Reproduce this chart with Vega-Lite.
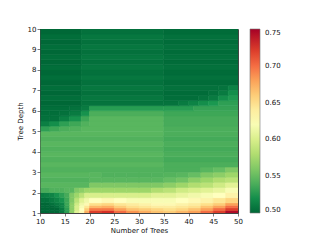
{"$schema":"https://vega.github.io/schema/vega-lite/v6.json","width":198,"height":184,"autosize":{"type":"none"},"padding":{"left":40,"top":29,"right":82,"bottom":27},"background":"white","config":{"font":"DejaVu Sans","view":{"stroke":"#444","strokeWidth":1}},
"data":{"values":[
{"t":10,"t2":11,"d":1,"d2":1.125,"v":0.5},{"t":11,"t2":12,"d":1,"d2":1.125,"v":0.5},{"t":12,"t2":13,"d":1,"d2":1.125,"v":0.5},{"t":13,"t2":14,"d":1,"d2":1.125,"v":0.5},{"t":14,"t2":15,"d":1,"d2":1.125,"v":0.51},{"t":15,"t2":16,"d":1,"d2":1.125,"v":0.53},{"t":16,"t2":17,"d":1,"d2":1.125,"v":0.565},{"t":17,"t2":18,"d":1,"d2":1.125,"v":0.605},{"t":18,"t2":19,"d":1,"d2":1.125,"v":0.63},{"t":19,"t2":20,"d":1,"d2":1.125,"v":0.675},{"t":20,"t2":22.5,"d":1,"d2":1.125,"v":0.72},{"t":22.5,"t2":25,"d":1,"d2":1.125,"v":0.725},{"t":25,"t2":27.5,"d":1,"d2":1.125,"v":0.7},{"t":27.5,"t2":30,"d":1,"d2":1.125,"v":0.685},{"t":30,"t2":32.5,"d":1,"d2":1.125,"v":0.675},{"t":32.5,"t2":35,"d":1,"d2":1.125,"v":0.665},{"t":35,"t2":37.5,"d":1,"d2":1.125,"v":0.66},{"t":37.5,"t2":40,"d":1,"d2":1.125,"v":0.67},{"t":40,"t2":42.5,"d":1,"d2":1.125,"v":0.68},{"t":42.5,"t2":45,"d":1,"d2":1.125,"v":0.7},{"t":45,"t2":47.5,"d":1,"d2":1.125,"v":0.72},{"t":47.5,"t2":50,"d":1,"d2":1.125,"v":0.745},
{"t":10,"t2":11,"d":1.125,"d2":1.25,"v":0.5},{"t":11,"t2":12,"d":1.125,"d2":1.25,"v":0.5},{"t":12,"t2":13,"d":1.125,"d2":1.25,"v":0.5},{"t":13,"t2":14,"d":1.125,"d2":1.25,"v":0.5},{"t":14,"t2":15,"d":1.125,"d2":1.25,"v":0.51},{"t":15,"t2":16,"d":1.125,"d2":1.25,"v":0.53},{"t":16,"t2":17,"d":1.125,"d2":1.25,"v":0.565},{"t":17,"t2":18,"d":1.125,"d2":1.25,"v":0.6},{"t":18,"t2":19,"d":1.125,"d2":1.25,"v":0.625},{"t":19,"t2":20,"d":1.125,"d2":1.25,"v":0.66},{"t":20,"t2":22.5,"d":1.125,"d2":1.25,"v":0.695},{"t":22.5,"t2":25,"d":1.125,"d2":1.25,"v":0.695},{"t":25,"t2":27.5,"d":1.125,"d2":1.25,"v":0.68},{"t":27.5,"t2":30,"d":1.125,"d2":1.25,"v":0.665},{"t":30,"t2":32.5,"d":1.125,"d2":1.25,"v":0.66},{"t":32.5,"t2":35,"d":1.125,"d2":1.25,"v":0.655},{"t":35,"t2":37.5,"d":1.125,"d2":1.25,"v":0.65},{"t":37.5,"t2":40,"d":1.125,"d2":1.25,"v":0.655},{"t":40,"t2":42.5,"d":1.125,"d2":1.25,"v":0.665},{"t":42.5,"t2":45,"d":1.125,"d2":1.25,"v":0.68},{"t":45,"t2":47.5,"d":1.125,"d2":1.25,"v":0.7},{"t":47.5,"t2":50,"d":1.125,"d2":1.25,"v":0.72},
{"t":10,"t2":11,"d":1.25,"d2":1.375,"v":0.5},{"t":11,"t2":12,"d":1.25,"d2":1.375,"v":0.5},{"t":12,"t2":13,"d":1.25,"d2":1.375,"v":0.5},{"t":13,"t2":14,"d":1.25,"d2":1.375,"v":0.505},{"t":14,"t2":15,"d":1.25,"d2":1.375,"v":0.515},{"t":15,"t2":16,"d":1.25,"d2":1.375,"v":0.532},{"t":16,"t2":17,"d":1.25,"d2":1.375,"v":0.565},{"t":17,"t2":18,"d":1.25,"d2":1.375,"v":0.6},{"t":18,"t2":19,"d":1.25,"d2":1.375,"v":0.62},{"t":19,"t2":20,"d":1.25,"d2":1.375,"v":0.645},{"t":20,"t2":22.5,"d":1.25,"d2":1.375,"v":0.67},{"t":22.5,"t2":25,"d":1.25,"d2":1.375,"v":0.675},{"t":25,"t2":27.5,"d":1.25,"d2":1.375,"v":0.66},{"t":27.5,"t2":30,"d":1.25,"d2":1.375,"v":0.65},{"t":30,"t2":32.5,"d":1.25,"d2":1.375,"v":0.645},{"t":32.5,"t2":35,"d":1.25,"d2":1.375,"v":0.64},{"t":35,"t2":37.5,"d":1.25,"d2":1.375,"v":0.64},{"t":37.5,"t2":40,"d":1.25,"d2":1.375,"v":0.645},{"t":40,"t2":42.5,"d":1.25,"d2":1.375,"v":0.65},{"t":42.5,"t2":45,"d":1.25,"d2":1.375,"v":0.665},{"t":45,"t2":47.5,"d":1.25,"d2":1.375,"v":0.68},{"t":47.5,"t2":50,"d":1.25,"d2":1.375,"v":0.7},
{"t":10,"t2":11,"d":1.375,"d2":1.5,"v":0.5},{"t":11,"t2":12,"d":1.375,"d2":1.5,"v":0.5},{"t":12,"t2":13,"d":1.375,"d2":1.5,"v":0.505},{"t":13,"t2":14,"d":1.375,"d2":1.5,"v":0.51},{"t":14,"t2":15,"d":1.375,"d2":1.5,"v":0.515},{"t":15,"t2":16,"d":1.375,"d2":1.5,"v":0.535},{"t":16,"t2":17,"d":1.375,"d2":1.5,"v":0.565},{"t":17,"t2":18,"d":1.375,"d2":1.5,"v":0.595},{"t":18,"t2":19,"d":1.375,"d2":1.5,"v":0.615},{"t":19,"t2":20,"d":1.375,"d2":1.5,"v":0.63},{"t":20,"t2":22.5,"d":1.375,"d2":1.5,"v":0.65},{"t":22.5,"t2":25,"d":1.375,"d2":1.5,"v":0.655},{"t":25,"t2":27.5,"d":1.375,"d2":1.5,"v":0.645},{"t":27.5,"t2":30,"d":1.375,"d2":1.5,"v":0.64},{"t":30,"t2":32.5,"d":1.375,"d2":1.5,"v":0.635},{"t":32.5,"t2":35,"d":1.375,"d2":1.5,"v":0.63},{"t":35,"t2":37.5,"d":1.375,"d2":1.5,"v":0.63},{"t":37.5,"t2":40,"d":1.375,"d2":1.5,"v":0.635},{"t":40,"t2":42.5,"d":1.375,"d2":1.5,"v":0.64},{"t":42.5,"t2":45,"d":1.375,"d2":1.5,"v":0.65},{"t":45,"t2":47.5,"d":1.375,"d2":1.5,"v":0.66},{"t":47.5,"t2":50,"d":1.375,"d2":1.5,"v":0.68},
{"t":10,"t2":11,"d":1.5,"d2":1.75,"v":0.505},{"t":11,"t2":12,"d":1.5,"d2":1.75,"v":0.505},{"t":12,"t2":13,"d":1.5,"d2":1.75,"v":0.51},{"t":13,"t2":14,"d":1.5,"d2":1.75,"v":0.515},{"t":14,"t2":15,"d":1.5,"d2":1.75,"v":0.522},{"t":15,"t2":16,"d":1.5,"d2":1.75,"v":0.535},{"t":16,"t2":17,"d":1.5,"d2":1.75,"v":0.56},{"t":17,"t2":18,"d":1.5,"d2":1.75,"v":0.585},{"t":18,"t2":19,"d":1.5,"d2":1.75,"v":0.605},{"t":19,"t2":20,"d":1.5,"d2":1.75,"v":0.615},{"t":20,"t2":22.5,"d":1.5,"d2":1.75,"v":0.625},{"t":22.5,"t2":25,"d":1.5,"d2":1.75,"v":0.63},{"t":25,"t2":27.5,"d":1.5,"d2":1.75,"v":0.625},{"t":27.5,"t2":30,"d":1.5,"d2":1.75,"v":0.62},{"t":30,"t2":32.5,"d":1.5,"d2":1.75,"v":0.62},{"t":32.5,"t2":35,"d":1.5,"d2":1.75,"v":0.62},{"t":35,"t2":37.5,"d":1.5,"d2":1.75,"v":0.62},{"t":37.5,"t2":40,"d":1.5,"d2":1.75,"v":0.625},{"t":40,"t2":42.5,"d":1.5,"d2":1.75,"v":0.63},{"t":42.5,"t2":45,"d":1.5,"d2":1.75,"v":0.635},{"t":45,"t2":47.5,"d":1.5,"d2":1.75,"v":0.645},{"t":47.5,"t2":50,"d":1.5,"d2":1.75,"v":0.655},
{"t":10,"t2":11,"d":1.75,"d2":2,"v":0.51},{"t":11,"t2":12,"d":1.75,"d2":2,"v":0.512},{"t":12,"t2":13,"d":1.75,"d2":2,"v":0.515},{"t":13,"t2":14,"d":1.75,"d2":2,"v":0.522},{"t":14,"t2":15,"d":1.75,"d2":2,"v":0.53},{"t":15,"t2":16,"d":1.75,"d2":2,"v":0.538},{"t":16,"t2":17,"d":1.75,"d2":2,"v":0.56},{"t":17,"t2":18,"d":1.75,"d2":2,"v":0.572},{"t":18,"t2":19,"d":1.75,"d2":2,"v":0.585},{"t":19,"t2":20,"d":1.75,"d2":2,"v":0.6},{"t":20,"t2":22.5,"d":1.75,"d2":2,"v":0.6},{"t":22.5,"t2":25,"d":1.75,"d2":2,"v":0.6},{"t":25,"t2":27.5,"d":1.75,"d2":2,"v":0.6},{"t":27.5,"t2":30,"d":1.75,"d2":2,"v":0.6},{"t":30,"t2":32.5,"d":1.75,"d2":2,"v":0.6},{"t":32.5,"t2":35,"d":1.75,"d2":2,"v":0.605},{"t":35,"t2":37.5,"d":1.75,"d2":2,"v":0.605},{"t":37.5,"t2":40,"d":1.75,"d2":2,"v":0.61},{"t":40,"t2":42.5,"d":1.75,"d2":2,"v":0.615},{"t":42.5,"t2":45,"d":1.75,"d2":2,"v":0.62},{"t":45,"t2":47.5,"d":1.75,"d2":2,"v":0.625},{"t":47.5,"t2":50,"d":1.75,"d2":2,"v":0.635},
{"t":10,"t2":11,"d":2,"d2":2.25,"v":0.538},{"t":11,"t2":12,"d":2,"d2":2.25,"v":0.538},{"t":12,"t2":13,"d":2,"d2":2.25,"v":0.542},{"t":13,"t2":14,"d":2,"d2":2.25,"v":0.542},{"t":14,"t2":15,"d":2,"d2":2.25,"v":0.542},{"t":15,"t2":16,"d":2,"d2":2.25,"v":0.545},{"t":16,"t2":17,"d":2,"d2":2.25,"v":0.545},{"t":17,"t2":18,"d":2,"d2":2.25,"v":0.56},{"t":18,"t2":19,"d":2,"d2":2.25,"v":0.565},{"t":19,"t2":20,"d":2,"d2":2.25,"v":0.572},{"t":20,"t2":22.5,"d":2,"d2":2.25,"v":0.572},{"t":22.5,"t2":25,"d":2,"d2":2.25,"v":0.572},{"t":25,"t2":27.5,"d":2,"d2":2.25,"v":0.572},{"t":27.5,"t2":30,"d":2,"d2":2.25,"v":0.572},{"t":30,"t2":32.5,"d":2,"d2":2.25,"v":0.572},{"t":32.5,"t2":35,"d":2,"d2":2.25,"v":0.58},{"t":35,"t2":37.5,"d":2,"d2":2.25,"v":0.585},{"t":37.5,"t2":40,"d":2,"d2":2.25,"v":0.595},{"t":40,"t2":42.5,"d":2,"d2":2.25,"v":0.6},{"t":42.5,"t2":45,"d":2,"d2":2.25,"v":0.605},{"t":45,"t2":47.5,"d":2,"d2":2.25,"v":0.61},{"t":47.5,"t2":50,"d":2,"d2":2.25,"v":0.62},
{"t":10,"t2":20,"d":2.25,"d2":2.5,"v":0.545},{"t":20,"t2":22.5,"d":2.25,"d2":2.5,"v":0.56},{"t":22.5,"t2":25,"d":2.25,"d2":2.5,"v":0.56},{"t":25,"t2":27.5,"d":2.25,"d2":2.5,"v":0.56},{"t":27.5,"t2":30,"d":2.25,"d2":2.5,"v":0.56},{"t":30,"t2":32.5,"d":2.25,"d2":2.5,"v":0.56},{"t":32.5,"t2":35,"d":2.25,"d2":2.5,"v":0.56},{"t":35,"t2":37.5,"d":2.25,"d2":2.5,"v":0.565},{"t":37.5,"t2":40,"d":2.25,"d2":2.5,"v":0.572},{"t":40,"t2":42.5,"d":2.25,"d2":2.5,"v":0.58},{"t":42.5,"t2":45,"d":2.25,"d2":2.5,"v":0.585},{"t":45,"t2":47.5,"d":2.25,"d2":2.5,"v":0.595},{"t":47.5,"t2":50,"d":2.25,"d2":2.5,"v":0.605},
{"t":10,"t2":20,"d":2.5,"d2":2.75,"v":0.542},{"t":20,"t2":22.5,"d":2.5,"d2":2.75,"v":0.545},{"t":22.5,"t2":25,"d":2.5,"d2":2.75,"v":0.545},{"t":25,"t2":27.5,"d":2.5,"d2":2.75,"v":0.545},{"t":27.5,"t2":30,"d":2.5,"d2":2.75,"v":0.545},{"t":30,"t2":32.5,"d":2.5,"d2":2.75,"v":0.545},{"t":32.5,"t2":35,"d":2.5,"d2":2.75,"v":0.545},{"t":35,"t2":37.5,"d":2.5,"d2":2.75,"v":0.55},{"t":37.5,"t2":40,"d":2.5,"d2":2.75,"v":0.555},{"t":40,"t2":42.5,"d":2.5,"d2":2.75,"v":0.565},{"t":42.5,"t2":45,"d":2.5,"d2":2.75,"v":0.572},{"t":45,"t2":47.5,"d":2.5,"d2":2.75,"v":0.58},{"t":47.5,"t2":50,"d":2.5,"d2":2.75,"v":0.585},
{"t":10,"t2":20,"d":2.75,"d2":3,"v":0.545},{"t":20,"t2":22.5,"d":2.75,"d2":3,"v":0.545},{"t":22.5,"t2":25,"d":2.75,"d2":3,"v":0.542},{"t":25,"t2":27.5,"d":2.75,"d2":3,"v":0.542},{"t":27.5,"t2":30,"d":2.75,"d2":3,"v":0.542},{"t":30,"t2":32.5,"d":2.75,"d2":3,"v":0.542},{"t":32.5,"t2":35,"d":2.75,"d2":3,"v":0.542},{"t":35,"t2":37.5,"d":2.75,"d2":3,"v":0.543},{"t":37.5,"t2":40,"d":2.75,"d2":3,"v":0.545},{"t":40,"t2":42.5,"d":2.75,"d2":3,"v":0.55},{"t":42.5,"t2":45,"d":2.75,"d2":3,"v":0.56},{"t":45,"t2":47.5,"d":2.75,"d2":3,"v":0.565},{"t":47.5,"t2":50,"d":2.75,"d2":3,"v":0.572},
{"t":10,"t2":35,"d":3,"d2":3.25,"v":0.542},{"t":35,"t2":42.5,"d":3,"d2":3.25,"v":0.54},{"t":42.5,"t2":45,"d":3,"d2":3.25,"v":0.545},{"t":45,"t2":47.5,"d":3,"d2":3.25,"v":0.55},{"t":47.5,"t2":50,"d":3,"d2":3.25,"v":0.56},
{"t":10,"t2":35,"d":3.25,"d2":3.5,"v":0.545},{"t":35,"t2":50,"d":3.25,"d2":3.5,"v":0.54},
{"t":10,"t2":35,"d":3.5,"d2":3.75,"v":0.542},{"t":35,"t2":50,"d":3.5,"d2":3.75,"v":0.537},
{"t":10,"t2":35,"d":3.75,"d2":4,"v":0.545},{"t":35,"t2":50,"d":3.75,"d2":4,"v":0.54},
{"t":10,"t2":35,"d":4,"d2":4.25,"v":0.542},{"t":35,"t2":50,"d":4,"d2":4.25,"v":0.537},
{"t":10,"t2":35,"d":4.25,"d2":4.5,"v":0.545},{"t":35,"t2":50,"d":4.25,"d2":4.5,"v":0.54},
{"t":10,"t2":35,"d":4.5,"d2":4.75,"v":0.542},{"t":35,"t2":50,"d":4.5,"d2":4.75,"v":0.537},
{"t":10,"t2":35,"d":4.75,"d2":5,"v":0.545},{"t":35,"t2":50,"d":4.75,"d2":5,"v":0.54},
{"t":10,"t2":12,"d":5,"d2":5.25,"v":0.53},{"t":12,"t2":14,"d":5,"d2":5.25,"v":0.535},{"t":14,"t2":16,"d":5,"d2":5.25,"v":0.54},{"t":16,"t2":18.3,"d":5,"d2":5.25,"v":0.542},{"t":18.3,"t2":35,"d":5,"d2":5.25,"v":0.545},{"t":35,"t2":50,"d":5,"d2":5.25,"v":0.54},
{"t":10,"t2":12,"d":5.25,"d2":5.5,"v":0.512},{"t":12,"t2":14,"d":5.25,"d2":5.5,"v":0.52},{"t":14,"t2":16,"d":5.25,"d2":5.5,"v":0.53},{"t":16,"t2":18.3,"d":5.25,"d2":5.5,"v":0.535},{"t":18.3,"t2":20,"d":5.25,"d2":5.5,"v":0.542},{"t":20,"t2":35,"d":5.25,"d2":5.5,"v":0.545},{"t":35,"t2":50,"d":5.25,"d2":5.5,"v":0.538},
{"t":10,"t2":12,"d":5.5,"d2":5.75,"v":0.505},{"t":12,"t2":14,"d":5.5,"d2":5.75,"v":0.505},{"t":14,"t2":16,"d":5.5,"d2":5.75,"v":0.512},{"t":16,"t2":18.3,"d":5.5,"d2":5.75,"v":0.522},{"t":18.3,"t2":20,"d":5.5,"d2":5.75,"v":0.535},{"t":20,"t2":35,"d":5.5,"d2":5.75,"v":0.545},{"t":35,"t2":50,"d":5.5,"d2":5.75,"v":0.538},
{"t":10,"t2":12,"d":5.75,"d2":6,"v":0.503},{"t":12,"t2":14,"d":5.75,"d2":6,"v":0.503},{"t":14,"t2":16,"d":5.75,"d2":6,"v":0.505},{"t":16,"t2":18.3,"d":5.75,"d2":6,"v":0.51},{"t":18.3,"t2":20,"d":5.75,"d2":6,"v":0.522},{"t":20,"t2":35,"d":5.75,"d2":6,"v":0.54},{"t":35,"t2":50,"d":5.75,"d2":6,"v":0.535},
{"t":10,"t2":16,"d":6,"d2":6.25,"v":0.503},{"t":16,"t2":18.3,"d":6,"d2":6.25,"v":0.505},{"t":18.3,"t2":20,"d":6,"d2":6.25,"v":0.51},{"t":20,"t2":35,"d":6,"d2":6.25,"v":0.528},{"t":35,"t2":41,"d":6,"d2":6.25,"v":0.528},{"t":41,"t2":50,"d":6,"d2":6.25,"v":0.532},
{"t":10,"t2":18.3,"d":6.25,"d2":6.5,"v":0.5},{"t":18.3,"t2":35,"d":6.25,"d2":6.5,"v":0.506},{"t":35,"t2":38,"d":6.25,"d2":6.5,"v":0.506},{"t":38,"t2":40,"d":6.25,"d2":6.5,"v":0.51},{"t":40,"t2":42,"d":6.25,"d2":6.5,"v":0.514},{"t":42,"t2":44,"d":6.25,"d2":6.5,"v":0.52},{"t":44,"t2":46,"d":6.25,"d2":6.5,"v":0.525},{"t":46,"t2":50,"d":6.25,"d2":6.5,"v":0.53},
{"t":10,"t2":18.3,"d":6.5,"d2":6.75,"v":0.503},{"t":18.3,"t2":35,"d":6.5,"d2":6.75,"v":0.508},{"t":35,"t2":42,"d":6.5,"d2":6.75,"v":0.503},{"t":42,"t2":44,"d":6.5,"d2":6.75,"v":0.506},{"t":44,"t2":46,"d":6.5,"d2":6.75,"v":0.51},{"t":46,"t2":48,"d":6.5,"d2":6.75,"v":0.52},{"t":48,"t2":50,"d":6.5,"d2":6.75,"v":0.526},
{"t":10,"t2":18.3,"d":6.75,"d2":7,"v":0.5},{"t":18.3,"t2":35,"d":6.75,"d2":7,"v":0.505},{"t":35,"t2":44,"d":6.75,"d2":7,"v":0.502},{"t":44,"t2":46,"d":6.75,"d2":7,"v":0.505},{"t":46,"t2":48,"d":6.75,"d2":7,"v":0.51},{"t":48,"t2":50,"d":6.75,"d2":7,"v":0.52},
{"t":10,"t2":18.3,"d":7,"d2":7.25,"v":0.503},{"t":18.3,"t2":35,"d":7,"d2":7.25,"v":0.508},{"t":35,"t2":46,"d":7,"d2":7.25,"v":0.505},{"t":46,"t2":48,"d":7,"d2":7.25,"v":0.506},{"t":48,"t2":50,"d":7,"d2":7.25,"v":0.513},
{"t":10,"t2":18.3,"d":7.25,"d2":7.5,"v":0.5},{"t":18.3,"t2":35,"d":7.25,"d2":7.5,"v":0.505},{"t":35,"t2":50,"d":7.25,"d2":7.5,"v":0.502},
{"t":10,"t2":18.3,"d":7.5,"d2":7.75,"v":0.503},{"t":18.3,"t2":35,"d":7.5,"d2":7.75,"v":0.508},{"t":35,"t2":50,"d":7.5,"d2":7.75,"v":0.505},
{"t":10,"t2":18.3,"d":7.75,"d2":8,"v":0.5},{"t":18.3,"t2":35,"d":7.75,"d2":8,"v":0.505},{"t":35,"t2":50,"d":7.75,"d2":8,"v":0.502},
{"t":10,"t2":18.3,"d":8,"d2":8.25,"v":0.503},{"t":18.3,"t2":35,"d":8,"d2":8.25,"v":0.508},{"t":35,"t2":50,"d":8,"d2":8.25,"v":0.505},
{"t":10,"t2":18.3,"d":8.25,"d2":8.5,"v":0.5},{"t":18.3,"t2":35,"d":8.25,"d2":8.5,"v":0.505},{"t":35,"t2":50,"d":8.25,"d2":8.5,"v":0.502},
{"t":10,"t2":18.3,"d":8.5,"d2":8.75,"v":0.503},{"t":18.3,"t2":35,"d":8.5,"d2":8.75,"v":0.508},{"t":35,"t2":50,"d":8.5,"d2":8.75,"v":0.505},
{"t":10,"t2":18.3,"d":8.75,"d2":9,"v":0.5},{"t":18.3,"t2":35,"d":8.75,"d2":9,"v":0.505},{"t":35,"t2":50,"d":8.75,"d2":9,"v":0.502},
{"t":10,"t2":18.3,"d":9,"d2":9.25,"v":0.503},{"t":18.3,"t2":35,"d":9,"d2":9.25,"v":0.508},{"t":35,"t2":50,"d":9,"d2":9.25,"v":0.505},
{"t":10,"t2":18.3,"d":9.25,"d2":9.5,"v":0.5},{"t":18.3,"t2":35,"d":9.25,"d2":9.5,"v":0.505},{"t":35,"t2":50,"d":9.25,"d2":9.5,"v":0.502},
{"t":10,"t2":18.3,"d":9.5,"d2":9.75,"v":0.503},{"t":18.3,"t2":35,"d":9.5,"d2":9.75,"v":0.508},{"t":35,"t2":50,"d":9.5,"d2":9.75,"v":0.505},
{"t":10,"t2":18.3,"d":9.75,"d2":10,"v":0.5},{"t":18.3,"t2":35,"d":9.75,"d2":10,"v":0.505},{"t":35,"t2":50,"d":9.75,"d2":10,"v":0.502}
]},
"mark":{"type":"rect","clip":true,"strokeWidth":0.6,"stroke":{"expr":"scale('fill',datum.v)"}},
"encoding":{
"x":{"field":"t","type":"quantitative","scale":{"domain":[10,50],"nice":false,"zero":false},"axis":{"title":"Number of Trees","values":[10,15,20,25,30,35,40,45,50],"grid":false,"zindex":1,"domainColor":"#444","domainWidth":0.5,"tickColor":"#222","tickWidth":0.6,"tickSize":3,"labelFontSize":7,"labelColor":"#111","labelPadding":1,"titleFontSize":7,"titleFontWeight":"normal","titleColor":"#111","titlePadding":2,"labelFlush":false}},
"x2":{"field":"t2"},
"y":{"field":"d","type":"quantitative","scale":{"domain":[1,10],"nice":false,"zero":false},"axis":{"title":"Tree Depth","values":[1,2,3,4,5,6,7,8,9,10],"grid":false,"zindex":1,"domainColor":"#444","domainWidth":0.5,"tickColor":"#222","tickWidth":0.6,"tickSize":3,"labelFontSize":7,"labelColor":"#111","labelPadding":1,"titleFontSize":7,"titleFontWeight":"normal","titleColor":"#111","titlePadding":4,"labelFlush":false}},
"y2":{"field":"d2"},
"fill":{"field":"v","type":"quantitative","scale":{"domain":[0.5,0.525,0.55,0.575,0.6,0.625,0.65,0.675,0.7,0.725,0.75],"range":["#006837","#1a9850","#66bd63","#a6d96a","#d9ef8b","#ffffbf","#fee08b","#fdae61","#f46d43","#d73027","#a50026"],"clamp":true},"legend":{"type":"gradient","title":null,"orient":"right","offset":12,"padding":0,"gradientLength":184,"gradientThickness":10,"gradientStrokeColor":"#777","gradientStrokeWidth":0.6,"values":[0.5,0.55,0.6,0.65,0.7,0.75],"format":".2f","labelFontSize":7,"labelColor":"#111","labelOffset":5,"labelOverlap":false,"encoding":{"labels":{"update":{"baseline":{"value":"middle"}}}}}}
}}
